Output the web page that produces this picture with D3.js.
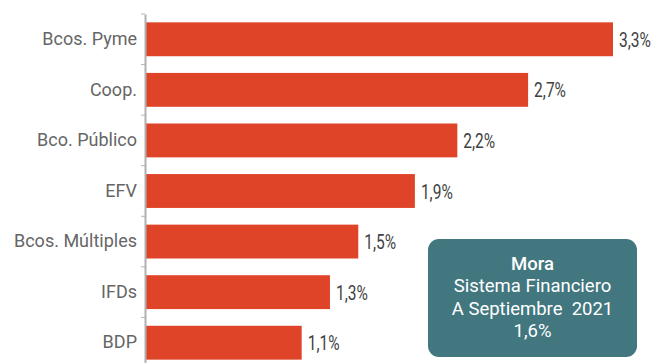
<!DOCTYPE html>
<html>
<head>
<meta charset="utf-8">
<script src="https://cdn.jsdelivr.net/npm/d3@7"></script>
<style>
  body { margin: 0; background: #fff; }
  svg { display: block; }
</style>
</head>
<body>
<div id="chart"></div>
<script>
const categories = ['Bcos. Pyme', 'Coop.', 'Bco. Público', 'EFV', 'Bcos. Múltiples', 'IFDs', 'BDP']
const values = [3.3, 2.7, 2.2, 1.9, 1.5, 1.3, 1.1]
const boxLines = ['Mora', 'Sistema Financiero', 'A Septiembre  2021', '1,6%']

const width = 656
const height = 363
const barColor = '#e04428'
const boxColor = '#42777f'

const svg = d3
  .select('#chart')
  .append('svg')
  .attr('width', width)
  .attr('height', height)

const x = d3.scaleLinear().domain([0, 3.3]).range([146, 613])
const y = d3.scaleBand().domain(categories).range([14, 368]).paddingInner(0.33).paddingOuter(0.165)

// bars
svg
  .append('g')
  .selectAll('rect')
  .data(values)
  .join('rect')
  .attr('x', x(0))
  .attr('y', (d, i) => y(categories[i]))
  .attr('width', (d) => x(d) - x(0))
  .attr('height', y.bandwidth())
  .attr('fill', barColor)

// value labels (condensed look: squeeze horizontally)
svg
  .append('g')
  .selectAll('text')
  .data(values)
  .join('text')
  .attr('transform', (d, i) => `translate(${x(d) + 6},${y(categories[i]) + y.bandwidth() / 2}) scale(0.74,1)`)
  .attr('dy', '0.36em')
  .attr('font-family', 'Roboto, sans-serif')
  .attr('font-size', 21)
  .attr('fill', '#3f3f3f')
  .text((d) => d.toFixed(1).replace('.', ',') + '%')

// category axis
const axis = svg
  .append('g')
  .attr('transform', `translate(${x(0) - 1},0)`)
  .call(
    d3
      .axisLeft(y)
      .tickSize(0)
      .tickPadding(8)
  )
axis.select('.domain').attr('stroke', '#b0b0b0').attr('stroke-width', 2)
axis
  .selectAll('text')
  .attr('font-family', 'Roboto, sans-serif')
  .attr('font-size', 18)
  .attr('fill', '#666')

// boundary ticks between categories
const step = y.step()
const bounds = d3.range(categories.length + 1).map((i) => y(categories[0]) - (step * y.paddingInner()) / 2 + i * step)
svg
  .append('g')
  .selectAll('line')
  .data(bounds)
  .join('line')
  .attr('x1', x(0) - 5)
  .attr('x2', x(0) - 1)
  .attr('y1', (d) => d)
  .attr('y2', (d) => d)
  .attr('stroke', '#b5b5b5')
  .attr('stroke-width', 1)

// summary box
const box = svg.append('g').attr('transform', 'translate(428,239)')
box
  .append('rect')
  .attr('width', 209)
  .attr('height', 118)
  .attr('rx', 11)
  .attr('fill', boxColor)
box
  .selectAll('text')
  .data(boxLines)
  .join('text')
  .attr('x', 104.5)
  .attr('y', (d, i) => 31 + i * 22.3)
  .attr('text-anchor', 'middle')
  .attr('font-family', 'Roboto, sans-serif')
  .attr('font-size', 18.5)
  .attr('font-weight', (d, i) => (i === 0 ? 500 : 400))
  .attr('fill', '#fff')
  .style('white-space', 'pre')
  .text((d) => d)
</script>
</body>
</html>
